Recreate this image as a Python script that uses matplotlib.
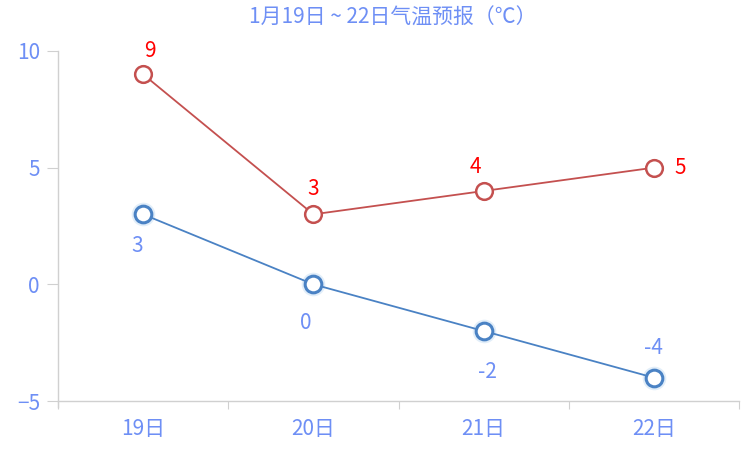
import matplotlib
matplotlib.use("Agg")
import matplotlib.pyplot as plt

plt.rcParams['font.family'] = ['Noto Sans CJK SC', 'DejaVu Sans']

days = ['19日', '20日', '21日', '22日']
high = [9, 3, 4, 5]
low = [3, 0, -2, -4]
title = '1月19日 ~ 22日气温预报（℃）'

high_color = '#c4504f'
low_color = '#4a82c4'
text_color = '#6e8ff5'

fig = plt.figure(figsize=(7.55, 4.73), dpi=100)
ax = fig.add_axes([58/755, 72/473, 681/755, 350/473])

x = list(range(len(days)))

# glow for low series markers
ax.plot(x, low, linestyle='none', marker='o', markersize=17,
        markerfacecolor='#cfe3f5', markeredgecolor='none', alpha=0.6, zorder=2)
ax.plot(x, low, color=low_color, linewidth=1.3, marker='o', markersize=12,
        markerfacecolor='white', markeredgecolor=low_color, markeredgewidth=2.2, zorder=3)
ax.plot(x, high, color=high_color, linewidth=1.3, marker='o', markersize=12,
        markerfacecolor='white', markeredgecolor=high_color, markeredgewidth=1.8, zorder=3)

# label offsets in pixels
high_offsets = [(7, 23), (0, 25), (-8, 24), (26, 0)]
low_offsets = [(-6, -32), (-8, -39), (4, -41), (0, 30)]
for xi, v, off in zip(x, high, high_offsets):
    ax.annotate(str(v), (xi, v), xytext=(off[0]*0.72, off[1]*0.72), textcoords='offset points',
                ha='center', va='center', color='red', fontsize=15)
for xi, v, off in zip(x, low, low_offsets):
    ax.annotate(str(v), (xi, v), xytext=(off[0]*0.72, off[1]*0.72), textcoords='offset points',
                ha='center', va='center', color=text_color, fontsize=15)

ax.set_xlim(-0.5, 3.5)
ax.set_ylim(-5, 10)
ax.set_yticks([-5, 0, 5, 10])
ax.set_xticks([i - 0.5 for i in range(len(days) + 1)])
ax.set_xticklabels([])
ax.set_xticks(x, minor=True)
ax.set_xticklabels(days, minor=True)
ax.tick_params(axis='x', which='minor', length=0, pad=12, labelsize=15, labelcolor=text_color)
ax.tick_params(axis='x', which='major', length=6, color='#d0d0d0', direction='out')
ax.tick_params(axis='y', length=8, color='#d0d0d0', labelsize=15, labelcolor=text_color, pad=5)

for s in ['top', 'right']:
    ax.spines[s].set_visible(False)
for s in ['left', 'bottom']:
    ax.spines[s].set_color('#d0d0d0')
    ax.spines[s].set_linewidth(1)
ax.spines['left'].set_bounds(-5.25, 10)

fig.text(393/755, 1 - 18/473, title, ha='center', va='center', color=text_color, fontsize=15)

fig.savefig('out.png', dpi=100)
